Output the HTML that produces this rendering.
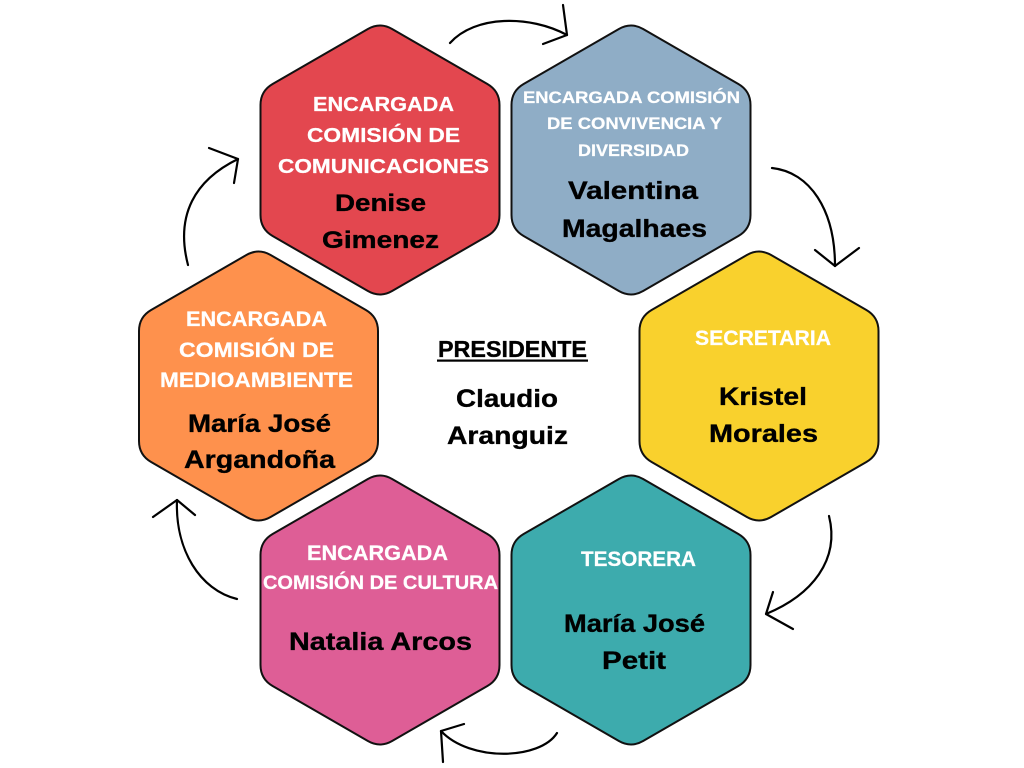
<!DOCTYPE html>
<html>
<head>
<meta charset="utf-8">
<style>
  html,body{margin:0;padding:0;background:#fff;}
  svg{display:block;}
  text{font-family:"Liberation Sans", Arial, sans-serif;font-weight:bold;}
  .w{fill:#fff;stroke:#fff;stroke-width:0.25;}
  .k{fill:#000;stroke:#000;stroke-width:0.35;}
</style>
</head>
<body>
<svg width="1024" height="768" viewBox="0 0 1024 768" xmlns="http://www.w3.org/2000/svg">
  <defs>
    <path id="hex" d="M12.12,-131 L107.38,-76 Q119.5,-69 119.5,-55 L119.5,55 Q119.5,69 107.38,76 L12.12,131 Q0,138 -12.12,131 L-107.38,76 Q-119.5,69 -119.5,55 L-119.5,-55 Q-119.5,-69 -107.38,-76 L-12.12,-131 Q0,-138 12.12,-131 Z" stroke="#111" stroke-width="2"/>
  </defs>
  <rect width="1024" height="768" fill="#fff"/>

  <!-- hexagons -->
  <use href="#hex" transform="translate(380,160)" fill="#E3474F"/>
  <use href="#hex" transform="translate(631,160)" fill="#8FADC6"/>
  <use href="#hex" transform="translate(258.5,386)" fill="#FE914D"/>
  <use href="#hex" transform="translate(759,386)" fill="#F9D12D"/>
  <use href="#hex" transform="translate(380,610)" fill="#DE5E96"/>
  <use href="#hex" transform="translate(631,610)" fill="#3DABAD"/>

  <!-- arrows -->
  <g fill="none" stroke="#000" stroke-width="2.2" stroke-linecap="round" stroke-linejoin="round">
    <path d="M450,43 C475,15 530,15 567,35"/>
    <path d="M563,5 L567,35 L543,44"/>
    <path d="M772,168 C810,172 835,210 835,266"/>
    <path d="M815,250 L835,266 L859,248"/>
    <path d="M829,516 C840,560 812,595 766,614"/>
    <path d="M773,592 L766,614 L793,629"/>
    <path d="M557,733 C540,760 470,762 441,731"/>
    <path d="M464,724 L441,731 L443,762"/>
    <path d="M237,599 C200,590 175,550 177,500"/>
    <path d="M153,517 L177,500 L195,515"/>
    <path d="M188,265 C175,215 195,180 238,159"/>
    <path d="M209,148 L238,159 L234,183"/>
  </g>

  <!-- red -->
  <text class="w" x="313" y="111" font-size="20" textLength="141" lengthAdjust="spacingAndGlyphs">ENCARGADA</text>
  <text class="w" x="307" y="142" font-size="20" textLength="153" lengthAdjust="spacingAndGlyphs">COMISIÓN DE</text>
  <text class="w" x="278" y="173" font-size="20" textLength="211" lengthAdjust="spacingAndGlyphs">COMUNICACIONES</text>
  <text class="k" x="335" y="211" font-size="24" textLength="91" lengthAdjust="spacingAndGlyphs">Denise</text>
  <text class="k" x="322" y="248" font-size="24" textLength="117" lengthAdjust="spacingAndGlyphs">Gimenez</text>

  <!-- blue -->
  <text class="w" x="523" y="103" font-size="17" textLength="217" lengthAdjust="spacingAndGlyphs">ENCARGADA COMISIÓN</text>
  <text class="w" x="547" y="129" font-size="17" textLength="175" lengthAdjust="spacingAndGlyphs">DE CONVIVENCIA Y</text>
  <text class="w" x="578" y="156" font-size="17" textLength="111" lengthAdjust="spacingAndGlyphs">DIVERSIDAD</text>
  <text class="k" x="568" y="199" font-size="25" textLength="130" lengthAdjust="spacingAndGlyphs">Valentina</text>
  <text class="k" x="562" y="237" font-size="25" textLength="145" lengthAdjust="spacingAndGlyphs">Magalhaes</text>

  <!-- orange -->
  <text class="w" x="186" y="326" font-size="21" textLength="141" lengthAdjust="spacingAndGlyphs">ENCARGADA</text>
  <text class="w" x="179" y="357" font-size="21" textLength="155" lengthAdjust="spacingAndGlyphs">COMISIÓN DE</text>
  <text class="w" x="160" y="387" font-size="21" textLength="193" lengthAdjust="spacingAndGlyphs">MEDIOAMBIENTE</text>
  <text class="k" x="188" y="432" font-size="25" textLength="143" lengthAdjust="spacingAndGlyphs">María José</text>
  <text class="k" x="184" y="468" font-size="25" textLength="151" lengthAdjust="spacingAndGlyphs">Argandoña</text>

  <!-- center -->
  <text class="k" x="438" y="357" font-size="23" textLength="149" lengthAdjust="spacingAndGlyphs">PRESIDENTE</text>
  <rect x="437" y="359.5" width="151" height="2.2" fill="#000"/>
  <text class="k" x="456" y="407" font-size="25" textLength="102" lengthAdjust="spacingAndGlyphs">Claudio</text>
  <text class="k" x="447" y="444" font-size="25" textLength="121" lengthAdjust="spacingAndGlyphs">Aranguiz</text>

  <!-- yellow -->
  <text class="w" x="695" y="345" font-size="21" textLength="136" lengthAdjust="spacingAndGlyphs">SECRETARIA</text>
  <text class="k" x="719" y="405" font-size="25" textLength="88" lengthAdjust="spacingAndGlyphs">Kristel</text>
  <text class="k" x="709" y="442" font-size="25" textLength="109" lengthAdjust="spacingAndGlyphs">Morales</text>

  <!-- pink -->
  <text class="w" x="307" y="560" font-size="21" textLength="141" lengthAdjust="spacingAndGlyphs">ENCARGADA</text>
  <text class="w" x="263" y="589" font-size="19" textLength="235" lengthAdjust="spacingAndGlyphs">COMISIÓN DE CULTURA</text>
  <text class="k" x="289" y="650" font-size="25" textLength="183" lengthAdjust="spacingAndGlyphs">Natalia Arcos</text>

  <!-- teal -->
  <text class="w" x="581" y="566" font-size="21" textLength="115" lengthAdjust="spacingAndGlyphs">TESORERA</text>
  <text class="k" x="564" y="632" font-size="25" textLength="141" lengthAdjust="spacingAndGlyphs">María José</text>
  <text class="k" x="602" y="669" font-size="25" textLength="64" lengthAdjust="spacingAndGlyphs">Petit</text>
</svg>
</body>
</html>
